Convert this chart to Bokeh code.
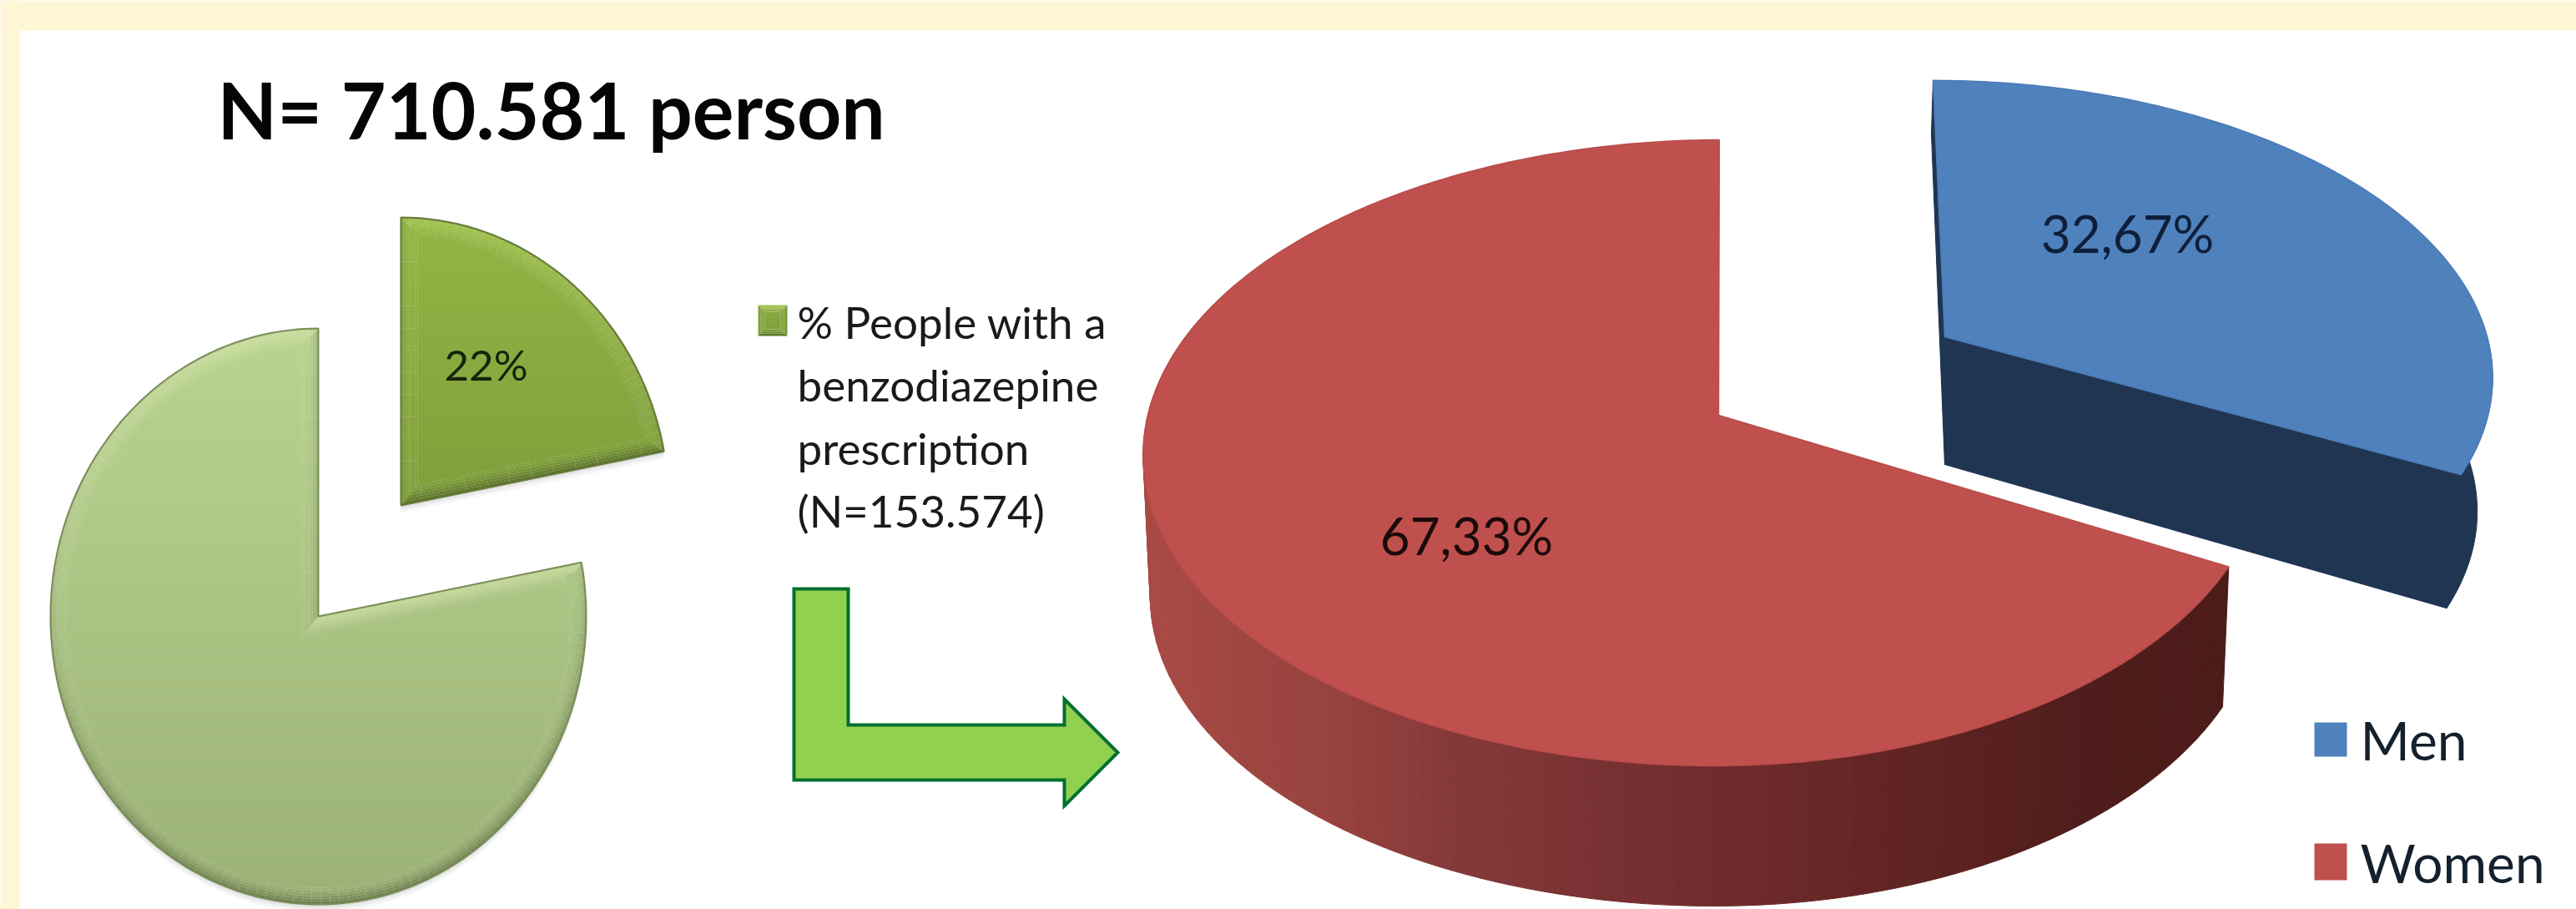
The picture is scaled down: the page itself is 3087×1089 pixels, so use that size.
import numpy as np
from bokeh.plotting import figure
from bokeh.models import Range1d, Label
from bokeh.embed import file_html
from bokeh.resources import INLINE

# ---- data ----
title_text = "N= 710.581 person"
prescription_shares = [22, 78]
prescription_labels = ["22%", ""]
legend_lines = ["% People with a", "benzodiazepine", "prescription", "(N=153.574)"]
gender_names = ["Men", "Women"]
gender_shares = [32.67, 67.33]
gender_labels = ["32,67%", "67,33%"]

CREAM = "#fff6d6"

def hx(c):
    c = c.lstrip("#")
    return np.array([int(c[i:i+2], 16) for i in (0, 2, 4)], float)

def to_hex(c):
    c = np.clip(np.round(c), 0, 255).astype(int)
    return "#%02x%02x%02x" % tuple(c)

def area(P):
    x, y = P[:, 0], P[:, 1]
    return 0.5 * np.sum(x * np.roll(y, -1) - np.roll(x, -1) * y)

def densify(P, step=25.0):
    out = []
    n = len(P)
    for i in range(n):
        a, b = P[i], P[(i + 1) % n]
        k = max(1, int(np.hypot(*(b - a)) / step))
        for j in range(k):
            out.append(a + (b - a) * j / k)
    return np.array(out)

def inward_normals(P):
    s = 1.0 if area(P) > 0 else -1.0
    e = np.roll(P, -1, axis=0) - P
    L = np.hypot(e[:, 0], e[:, 1])
    L[L == 0] = 1
    e = e / L[:, None]
    return np.column_stack([-e[:, 1], e[:, 0]]) * s

def offset(P, d):
    N = inward_normals(P)
    Np = np.roll(N, 1, axis=0)
    m = N + Np
    L = np.hypot(m[:, 0], m[:, 1])
    L[L == 0] = 1
    m = m / L[:, None]
    c = np.maximum(np.sum(m * N, axis=1), 0.3)
    return P + m * (d / c)[:, None]

def clip_band(P, y0, y1):
    def clip(Q, keep, cross):
        out = []
        for i in range(len(Q)):
            a, b = Q[i], Q[(i + 1) % len(Q)]
            ka, kb = keep(a), keep(b)
            if ka:
                out.append(a)
            if ka != kb:
                out.append(cross(a, b))
        return np.array(out) if out else np.zeros((0, 2))
    def at(y):
        return lambda a, b: a + (b - a) * (y - a[1]) / (b[1] - a[1])
    Q = clip(P, lambda q: q[1] >= y0, at(y0))
    if len(Q) == 0:
        return Q
    return clip(Q, lambda q: q[1] <= y1, at(y1))

def bevelled(P, c_top, c_bot, light, dark, D=20.0, layers=6, band=10.0):
    """Faces of a bevelled flat slice: interior y gradient plus an edge ramp."""
    P = densify(P)
    y_min, y_max = P[:, 1].min(), P[:, 1].max()
    ct, cb, cl, cd = hx(c_top), hx(c_bot), hx(light), hx(dark)
    def base(y):
        return ct + (cb - ct) * (y - y_min) / (y_max - y_min)
    xs, ys, cols = [], [], []
    inner = offset(P, D)
    y = y_min
    while y < y_max:
        Q = clip_band(inner, y, y + band + 2)
        if len(Q) > 2:
            xs.append(Q[:, 0].tolist()); ys.append(Q[:, 1].tolist())
            cols.append(to_hex(base(y + band / 2)))
        y += band
    N = inward_normals(P)
    n = len(P)
    for l in range(layers):
        d0, d1 = D * l / layers, D * (l + 1) / layers
        A, B = offset(P, d0), offset(P, d1)
        t = (l + 0.5) / layers
        for i in range(n):
            j = (i + 1) % n
            qx = [A[i, 0], A[j, 0], B[j, 0], B[i, 0]]
            qy = [A[i, 1], A[j, 1], B[j, 1], B[i, 1]]
            f = N[i, 1] * 0.95 + N[i, 0] * 0.1
            col = base(np.mean(qy))
            ramp = (1 - t) ** 1.5
            if f > 0:
                col = col + (cl - col) * min(1, 0.85 * f * ramp)
            else:
                col = col + (cd - col) * min(1, 0.8 * -f * ramp)
            col = col + (cd - col) * 0.22 * (1 - t) ** 3
            xs.append(qx); ys.append(qy); cols.append(to_hex(col))
    return xs, ys, cols

# ---- slice geometry ----
def flat_arc(cx, cy, rx, ry, a0, a1, n=None):
    n = n or max(2, int(abs(a1 - a0) / np.radians(2.0)))
    th = np.linspace(a0, a1, n + 1)
    return np.column_stack([cx + rx * np.sin(th), cy - ry * np.cos(th)])

def persp(th, xa, ya, rxL, rxR, ry, k, skew):
    th = np.asarray(th, float)
    u, v = np.sin(th), np.cos(th)
    d = 1 + k * v
    rx = np.where(u >= 0, rxR, rxL)
    return np.column_stack([xa + rx * u / d + skew * v, ya - ry * v / d])

p = figure(width=3087, height=1089, x_range=Range1d(0, 3087), y_range=Range1d(1089, 0),
           output_backend="svg", toolbar_location=None, min_border=0,
           background_fill_color="white", border_fill_color="white", outline_line_color=None)
p.axis.visible = False
p.grid.visible = False

# cream frame round the white panel
p.quad(left=[0], right=[23], top=[0], bottom=[1089], fill_color=CREAM, line_color=None)
p.quad(left=[0], right=[3087], top=[0], bottom=[36], fill_color=CREAM, line_color=None)

# ---- left pie ----
frac = np.cumsum(prescription_shares) / np.sum(prescription_shares)
a_split = 2 * np.pi * frac[0]
small = np.vstack([[[480, 605]], flat_arc(480, 605, 321, 345, 0, a_split)])
large = np.vstack([[[381, 738]], flat_arc(381, 738, 321, 345, a_split, 2 * np.pi)])

for P, ctop, cbot, li, da, edge in [
    (large, "#b9d48e", "#9bb176", "#e6f7b8", "#5e7040", "#7a8c58"),
    (small, "#93b544", "#7f9e3b", "#b7de5c", "#4f6524", "#66793a"),
]:
    for off, al in [(9, 0.03), (6, 0.04), (3, 0.06)]:
        p.patch(P[:, 0], P[:, 1] + off, fill_color="#000000", fill_alpha=al, line_color=None)
    xs, ys, cols = bevelled(P, ctop, cbot, li, da)
    p.patches(xs, ys, fill_color=cols, line_color=None)
    p.patch(P[:, 0], P[:, 1], fill_color=None, line_color=edge, line_width=2)

# small legend swatch
sw = np.array([[908, 365], [943, 365], [943, 402], [908, 402]], float)
xs, ys, cols = bevelled(sw, "#8dae42", "#7d9c3a", "#c6e868", "#4f6524", D=8, layers=3, band=5)
p.patches(xs, ys, fill_color=cols, line_color=None)

# bent arrow
ax = [951, 1016, 1016, 1275, 1275, 1339, 1275, 1275, 951]
ay = [705, 705, 868, 868, 837, 901, 965, 934, 934]
p.patch(ax, ay, fill_color="#92d050", line_color="#00702e", line_width=4, line_join="miter")

# ---- right pie ----
m = 2 * np.pi * gender_shares[0] / np.sum(gender_shares)
RED = dict(xa=2059, ya=497, rxL=684, rxR=654, ry=369.6, k=0.12, skew=5)
BLUE = dict(xa=2330, ya=403, rxL=650, rxR=650, ry=344, k=0.12, skew=-14)

ths = np.radians(np.arange(np.degrees(m), 292, 1.5))
top = persp(ths, **RED)
bot = top.copy()
bot[:, 0] = RED["xa"] + (top[:, 0] - RED["xa"]) * 0.988
bot[:, 1] = top[:, 1] + 168
wx, wy, wc = [], [], []
stops_x = [1385, 1600, 1750, 2250, 2500, 2680]
stops_c = [hx(c) for c in ["#a84a45", "#96423e", "#84383a", "#632524", "#4f1d1b", "#4c1c19"]]
for i in range(len(ths) - 1):
    xm = (top[i, 0] + top[i + 1, 0]) / 2
    c = np.array([np.interp(xm, stops_x, [s[ch] for s in stops_c]) for ch in range(3)])
    wx.append([top[i, 0], top[i + 1, 0], bot[i + 1, 0], bot[i, 0]])
    wy.append([top[i, 1], top[i + 1, 1], bot[i + 1, 1], bot[i, 1]])
    wc.append(to_hex(c))
p.patches(wx, wy, fill_color=wc, line_color=wc, line_width=1)

th_red = np.radians(np.arange(np.degrees(m), 360.01, 1.0))
red_arc = persp(th_red, **RED)
p.patch(np.r_[RED["xa"], red_arc[:, 0]], np.r_[RED["ya"], red_arc[:, 1]],
        fill_color="#c0504d", line_color="#b84c49", line_width=1.5)

NAVY = "#1f3552"
tips = np.radians(np.arange(88, np.degrees(m) + 0.01, 1.0))
bt = persp(tips, **BLUE)
bb = bt.copy()
bb[:, 0] = BLUE["xa"] + (bt[:, 0] - BLUE["xa"]) * 0.972
bb[:, 1] = bt[:, 1] + 160
p.patch(np.r_[bt[:, 0], bb[::-1, 0]], np.r_[bt[:, 1], bb[::-1, 1]], fill_color=NAVY, line_color=NAVY)
p.patch([BLUE["xa"], bt[-1, 0], bb[-1, 0], BLUE["xa"]],
        [BLUE["ya"], bt[-1, 1], bb[-1, 1], BLUE["ya"] + 153], fill_color=NAVY, line_color=NAVY)
top_pt = persp([0.0], **BLUE)[0]
p.patch([top_pt[0], BLUE["xa"], BLUE["xa"], top_pt[0] - 2],
        [top_pt[1], BLUE["ya"], BLUE["ya"] + 153, top_pt[1] + 64], fill_color=NAVY, line_color=NAVY)

th_blue = np.radians(np.arange(0, np.degrees(m) + 0.01, 1.0))
blue_arc = persp(th_blue, **BLUE)
p.patch(np.r_[BLUE["xa"], blue_arc[:, 0]], np.r_[BLUE["ya"], blue_arc[:, 1]],
        fill_color="#4f81bd", line_color="#4b7bb6", line_width=1.5)

p.quad(left=[2773, 2773], right=[2812, 2812], top=[865, 1010], bottom=[906, 1054],
       fill_color=["#4f81bd", "#c0504d"], line_color=None)

# ---- texts ----
def txt(x, y, s, size, color="#0b0b0b", weight="normal", align="left"):
    p.add_layout(Label(x=x, y=y, text=s, text_font="Lato", text_font_size=f"{size}px",
                       text_color=color, text_font_style=weight, text_align=align,
                       text_baseline="middle"))

txt(260, 130, title_text, 93, "#050505", "bold")
for line, y in zip(legend_lines, [385, 460, 536, 611]):
    txt(955, y, line, 53, "#1a1a1a")
txt(582, 436, prescription_labels[0], 51, "#15240c", align="center")
txt(2549, 278, gender_labels[0], 62, "#0e1f3a", align="center")
txt(1757, 640, gender_labels[1], 62, "#1c0a0a", align="center")
txt(2828, 886, gender_names[0], 64, "#15202e")
txt(2828, 1033, gender_names[1], 64, "#15202e")

open("out.html", "w").write(file_html(p, INLINE))
